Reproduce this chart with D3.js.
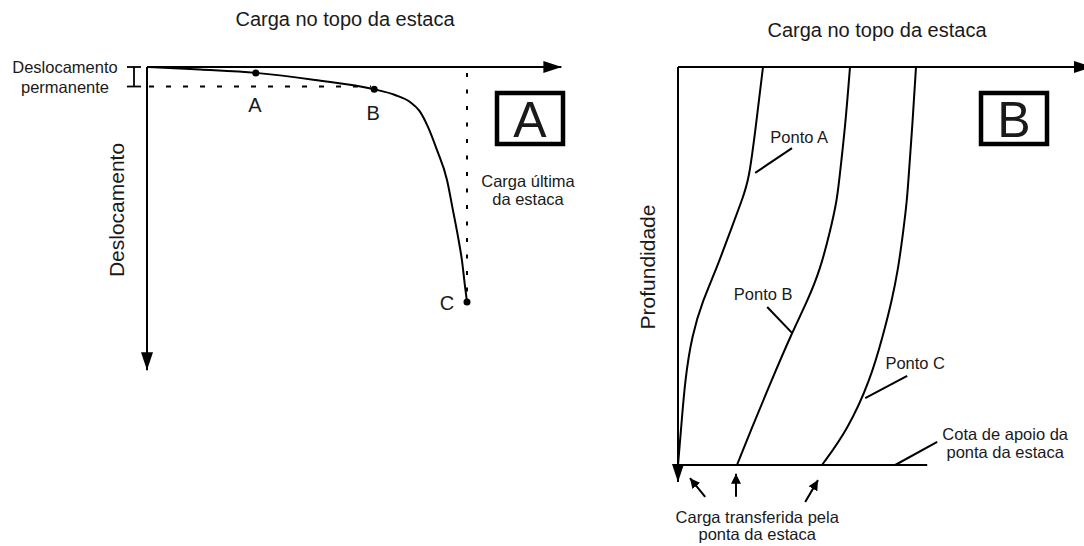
<!DOCTYPE html>
<html>
<head>
<meta charset="utf-8">
<title>Carga x deslocamento</title>
<script src="https://cdn.jsdelivr.net/npm/d3@7"></script>
<style>
	body { margin: 0; background: #fff; }
	text { font-family: "Liberation Sans", Arial, sans-serif; fill: #1a1a1a; }
</style>
</head>
<body>
<div class="chart"></div>
<script>
// ---- panel A: carga x deslocamento (load in % of ultimate, displacement in %)
var curveLoad = [0, 16.6, 34, 52.5, 71, 77.5, 82.2, 85.2, 87.8, 90.6, 93.75, 95.6, 97.2, 98.4, 99.4, 100];
var curveDisp = [0, 1.1, 2.5, 5.5, 9.5, 11.9, 14.9, 18.8, 25.5, 35.3, 48.1, 60.9, 72.3, 82.1, 93.6, 100];
var pointNames = ["A", "B", "C"];
var pointLoad = [34, 71, 100];
var pointDisp = [2.5, 9.5, 100];
var permanentDisp = 8.3;
var ultimateLoad = 100;

// ---- panel B: carga ao longo da profundidade, one profile per point
var depth = [0, 14.6, 28.4, 33.4, 41.5, 51, 58.5, 67.3, 78.6, 91.2, 100];
var loadA = [21.25, 19.5, 17.75, 16, 13, 9.5, 6.25, 3.5, 1.75, 0.75, 0];
var loadB = [43, 41.85, 40.3, 39.75, 38, 35.5, 32.5, 28.25, 23.45, 18.25, 14.75];
var loadC = [59.5, 58.6, 57.6, 57.25, 56.3, 55, 53.5, 51.3, 48.1, 42.4, 36];
var profileNames = ["Ponto A", "Ponto B", "Ponto C"];

var width = 1084, height = 546;

var svg = d3.select(".chart").append("svg")
	.attr("width", width)
	.attr("height", height);

var defs = svg.append("defs");
function arrowMarker(id, len, half) {
	defs.append("marker")
		.attr("id", id)
		.attr("markerUnits", "userSpaceOnUse")
		.attr("viewBox", "0 0 " + len + " " + (half * 2))
		.attr("refX", len).attr("refY", half)
		.attr("markerWidth", len).attr("markerHeight", half * 2)
		.attr("orient", "auto")
		.append("path")
		.attr("d", "M0,0L" + len + "," + half + "L0," + (half * 2) + "Z")
		.attr("fill", "#000");
}
arrowMarker("axisArrow", 18, 6);
arrowMarker("smallArrow", 10, 5);

function hline(g, x1, y1, x2, y2) {
	return g.append("line")
		.attr("x1", x1).attr("y1", y1).attr("x2", x2).attr("y2", y2)
		.attr("stroke", "#000").attr("stroke-width", 2);
}

function label(g, x, y, txt, size, anchor) {
	return g.append("text")
		.attr("x", x).attr("y", y)
		.attr("text-anchor", anchor || "middle")
		.style("font-size", size + "px")
		.text(txt);
}

function panelBox(g, cx, cy, letter) {
	g.append("rect")
		.attr("x", cx - 33).attr("y", cy - 26)
		.attr("width", 66).attr("height", 51)
		.attr("fill", "none").attr("stroke", "#000").attr("stroke-width", 4.5);
	label(g, cx, cy + 18, letter, 50);
}

// ================= Panel A =================
var xL = d3.scaleLinear().domain([0, 100]).range([147, 467]);
var yL = d3.scaleLinear().domain([0, 100]).range([67, 302]);
var gA = svg.append("g");

label(gA, 345, 26, "Carga no topo da estaca", 20);

// axes
hline(gA, xL(0), yL(0), xL(129.5), yL(0)).attr("marker-end", "url(#axisArrow)");
hline(gA, xL(0), yL(0), xL(0), yL(129)).attr("marker-end", "url(#axisArrow)");

gA.append("text")
	.attr("transform", "translate(124," + 210 + ") rotate(-90)")
	.attr("text-anchor", "middle")
	.style("font-size", "21px")
	.text("Deslocamento");

// permanent displacement bracket
var bx = xL(0) - 13;
hline(gA, bx, yL(0), bx, yL(permanentDisp)).attr("stroke-width", 1.8);
hline(gA, bx - 7, yL(0), bx + 7, yL(0)).attr("stroke-width", 1.8);
hline(gA, bx - 7, yL(permanentDisp), bx + 7, yL(permanentDisp)).attr("stroke-width", 1.8);
label(gA, 65, 73, "Deslocamento", 16.5);
label(gA, 65, 93, "permanente", 16.5);

// dashed / dotted guides
hline(gA, xL(0), yL(permanentDisp), xL(pointLoad[1] - 1), yL(permanentDisp))
	.attr("stroke-dasharray", "5,12").attr("stroke-dashoffset", -2);
hline(gA, xL(ultimateLoad), yL(0), xL(ultimateLoad), yL(100))
	.attr("stroke-dasharray", "4,12.5").attr("stroke-dashoffset", -6);

label(gA, 528, 187, "Carga última", 16.5);
label(gA, 528, 205, "da estaca", 16.5);

// load-displacement curve
var lineL = d3.line()
	.x(function(d, i) { return xL(curveLoad[i]); })
	.y(function(d, i) { return yL(curveDisp[i]); })
	.curve(d3.curveMonotoneX);
gA.append("path")
	.datum(curveLoad)
	.attr("d", lineL)
	.attr("fill", "none").attr("stroke", "#000").attr("stroke-width", 2);

var labelOffset = [[-1, 39], [-1, 31], [-20, 8]];
pointNames.forEach(function(n, i) {
	gA.append("circle")
		.attr("cx", xL(pointLoad[i])).attr("cy", yL(pointDisp[i]))
		.attr("r", 3.5).attr("fill", "#000");
	label(gA, xL(pointLoad[i]) + labelOffset[i][0], yL(pointDisp[i]) + labelOffset[i][1], n, 20);
});

panelBox(gA, 530, 119, "A");

// ================= Panel B =================
var xR = d3.scaleLinear().domain([0, 100]).range([678, 1078]);
var yR = d3.scaleLinear().domain([0, 100]).range([67, 465]);
var gB = svg.append("g");

label(gB, 877, 37, "Carga no topo da estaca", 20);

hline(gB, xR(0), yR(0), xR(103.5), yR(0)).attr("marker-end", "url(#axisArrow)");
hline(gB, xR(0), yR(0), xR(0), yR(104.3)).attr("marker-end", "url(#axisArrow)");
hline(gB, xR(0), yR(100), xR(62.3), yR(100));

gB.append("text")
	.attr("transform", "translate(655," + 267 + ") rotate(-90)")
	.attr("text-anchor", "middle")
	.style("font-size", "21px")
	.text("Profundidade");

var lineR = d3.line()
	.x(function(d) { return xR(d[0]); })
	.y(function(d) { return yR(d[1]); })
	.curve(d3.curveBasis);

[loadA, loadB, loadC].forEach(function(loads) {
	gB.append("path")
		.datum(loads.map(function(v, i) { return [v, depth[i]]; }))
		.attr("d", lineR)
		.attr("fill", "none").attr("stroke", "#000").attr("stroke-width", 2);
});

// profile labels with leaders (load, depth units)
var profileText = [[30.3, 19.1], [21.3, 58.6], [59.3, 75.9]];
var profileLeader = [[28.5, 20.4, 19.3, 26.6], [22.3, 60.3, 28.5, 66.8], [57.3, 77.6, 46.8, 83.2]];
profileNames.forEach(function(n, i) {
	label(gB, xR(profileText[i][0]), yR(profileText[i][1]), n, 16.5);
	var l = profileLeader[i];
	hline(gB, xR(l[0]), yR(l[1]), xR(l[2]), yR(l[3]));
});

label(gB, xR(81.8), yR(93.7), "Cota de apoio da", 16.5);
label(gB, xR(81.8), yR(98.2), "ponta da estaca", 16.5);
hline(gB, xR(64.8), yR(94.2), xR(54.3), yR(100));

// arrows for load transferred at the pile tip
var tipArrows = [[6.8, 108, 3, 103.3], [14.5, 108, 14.5, 102.2], [31.8, 109.3, 35, 103.8]];
tipArrows.forEach(function(a) {
	hline(gB, xR(a[0]), yR(a[1]), xR(a[2]), yR(a[3]))
		.attr("marker-end", "url(#smallArrow)");
});
label(gB, xR(19.8), yR(114.6), "Carga transferida pela", 16.5);
label(gB, xR(19.8), yR(118.9), "ponta da estaca", 16.5);

panelBox(gB, 1014, 119, "B");
</script>
</body>
</html>
